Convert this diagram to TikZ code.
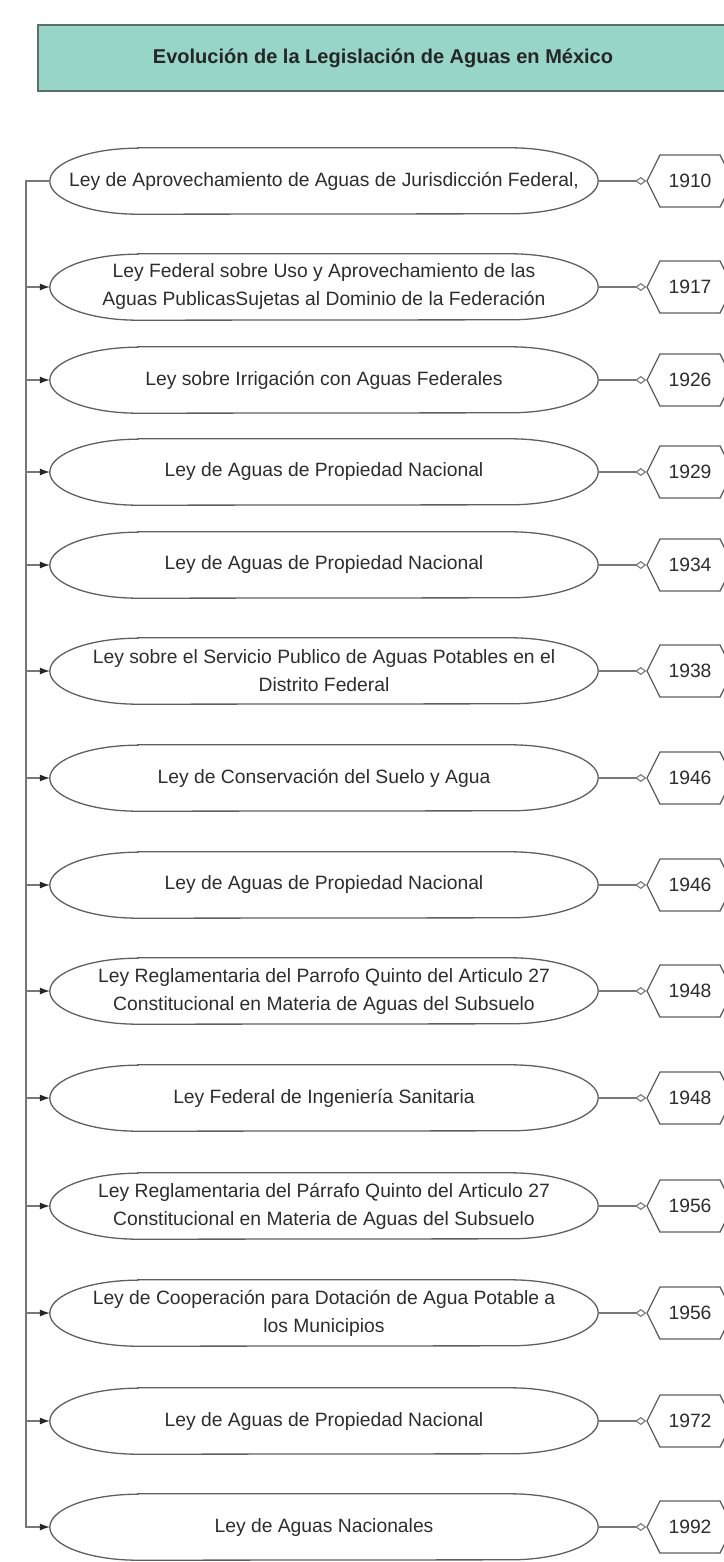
\documentclass[tikz,border=0pt]{standalone}
\usepackage{fontspec}
\setmainfont{Liberation Sans}
\usetikzlibrary{positioning}
\usetikzlibrary{arrows.meta}
\usetikzlibrary{shapes.symbols}
\definecolor{tealbox}{RGB}{150,213,199}
\definecolor{tealedge}{RGB}{92,112,106}
\definecolor{inkgray}{RGB}{45,45,45}
\definecolor{linegray}{RGB}{95,95,95}
\tikzset{ % boites et liens
    titlebox/.style={rectangle,fill=tealbox,draw=tealedge,line width=1.6pt,
        minimum width=690pt,minimum height=66pt,inner sep=0pt,
        text=black!85,font=\bfseries\fontsize{20}{24}\selectfont},
    law/.style={rectangle,minimum width=548pt,minimum height=66pt,inner sep=0pt,
        align=center,text=inkgray,font=\fontsize{19.3}{28}\selectfont},
    lawline/.style={draw=linegray,line width=1.3pt},
    yearbox/.style={signal,signal to=west and east,signal pointer angle=127,
        draw=linegray,line width=1.3pt,minimum width=86pt,minimum height=52pt,
        inner sep=0pt,text=inkgray,font=\fontsize{19.3}{23}\selectfont},
    wire/.style={draw=linegray!85,line width=1.1pt},
    tip/.style={-{Latex[length=10pt,width=7pt,color=black!85]}}
}
\newcommand\capsule[1]{% contour de la loi
    \draw[lawline] ([xshift=88pt]#1.north west) -- ([xshift=-88pt]#1.north east)
        arc[start angle=90,end angle=-90,x radius=88pt,y radius=33pt]
        -- ([xshift=88pt]#1.south west)
        arc[start angle=270,end angle=90,x radius=88pt,y radius=33pt] -- cycle;}
\begin{document}
\begin{tikzpicture}[x=1pt,y=-1pt]
    \useasboundingbox (0,0) rectangle (723,1562);
    \node[titlebox] (titre) at (383,58) {Evolución de la Legislación de Aguas en México};
    % lois
    \node[law] (law1) at (324,181) {Ley de Aprovechamiento de Aguas de Jurisdicción Federal,};
    \node[law] (law2) at (324,287) {Ley Federal sobre Uso y Aprovechamiento de las\\Aguas PublicasSujetas al Dominio de la Federación};
    \node[law] (law3) at (324,380) {Ley sobre Irrigación con Aguas Federales};
    \node[law] (law4) at (324,472) {Ley de Aguas de Propiedad Nacional};
    \node[law] (law5) at (324,565) {Ley de Aguas de Propiedad Nacional};
    \node[law] (law6) at (324,671) {Ley sobre el Servicio Publico de Aguas Potables en el\\Distrito Federal};
    \node[law] (law7) at (324,778) {Ley de Conservación del Suelo y Agua};
    \node[law] (law8) at (324,885) {Ley de Aguas de Propiedad Nacional};
    \node[law] (law9) at (324,991) {Ley Reglamentaria del Parrofo Quinto del Articulo 27\\Constitucional en Materia de Aguas del Subsuelo};
    \node[law] (law10) at (324,1098) {Ley Federal de Ingeniería Sanitaria};
    \node[law] (law11) at (324,1206) {Ley Reglamentaria del Párrafo Quinto del Articulo 27\\Constitucional en Materia de Aguas del Subsuelo};
    \node[law] (law12) at (324,1313) {Ley de Cooperación para Dotación de Agua Potable a\\los Municipios};
    \node[law] (law13) at (324,1421) {Ley de Aguas de Propiedad Nacional};
    \node[law] (law14) at (324,1527) {Ley de Aguas Nacionales};
    \foreach \i in {1,...,14} {\capsule{law\i}}
    % annees
    \node[yearbox] (yr1) at (690,181) {1910};
    \node[yearbox] (yr2) at (690,287) {1917};
    \node[yearbox] (yr3) at (690,380) {1926};
    \node[yearbox] (yr4) at (690,472) {1929};
    \node[yearbox] (yr5) at (690,565) {1934};
    \node[yearbox] (yr6) at (690,671) {1938};
    \node[yearbox] (yr7) at (690,778) {1946};
    \node[yearbox] (yr8) at (690,885) {1946};
    \node[yearbox] (yr9) at (690,991) {1948};
    \node[yearbox] (yr10) at (690,1098) {1948};
    \node[yearbox] (yr11) at (690,1206) {1956};
    \node[yearbox] (yr12) at (690,1313) {1956};
    \node[yearbox] (yr13) at (690,1421) {1972};
    \node[yearbox] (yr14) at (690,1527) {1992};
    % liens
    \coordinate (spine) at (26,181);
    \draw[wire,tip] (law1.west) -- (spine) |- (law14.west);
    \foreach \i in {2,...,13} {\draw[wire,tip] (law\i.west -| spine) -- (law\i.west);}
    \foreach \i in {1,...,14} {\draw[wire,-{Diamond[open,length=11pt,width=8pt]}] (law\i.east) -- (yr\i.west);}
\end{tikzpicture}
\end{document}
